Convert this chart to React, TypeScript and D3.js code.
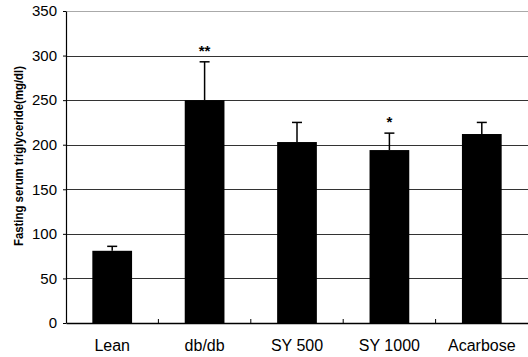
import { useEffect, useRef } from 'react';
import * as d3 from 'd3';

// groups and values
const groups = ['Lean', 'db/db', 'SY 500', 'SY 1000', 'Acarbose'];
const means = [81, 250, 203, 194, 212];
const errors = [5, 43, 22, 19, 13];
const marks = ['', '**', '', '*', ''];
const yTicks = [0, 50, 100, 150, 200, 250, 300, 350];

export default function App() {
  const svgRef = useRef<SVGSVGElement>(null);

  useEffect(() => {
    if (!svgRef.current) return;

    const width = 528;
    const height = 357;
    const margin = { top: 11, right: 0, bottom: 34, left: 66 };
    const innerWidth = width - margin.left - margin.right;
    const innerHeight = height - margin.top - margin.bottom;
    const font = 'Arial, "Liberation Sans", sans-serif';

    const svg = d3.select(svgRef.current);
    svg.selectAll('*').remove();
    svg.attr('width', width).attr('height', height);

    const g = svg
      .append('g')
      .attr('transform', `translate(${margin.left},${margin.top})`);

    // Scales
    const x = d3
      .scaleBand()
      .domain(groups)
      .range([0, innerWidth])
      .paddingInner(0.57)
      .paddingOuter(0.285);

    const y = d3.scaleLinear().domain([0, 350]).range([innerHeight, 0]);

    // Grid lines
    g.selectAll('line.grid')
      .data(yTicks.filter((t) => t > 0))
      .enter()
      .append('line')
      .attr('x1', 0)
      .attr('x2', innerWidth)
      .attr('y1', (d) => Math.round(y(d)) + 0.5)
      .attr('y2', (d) => Math.round(y(d)) + 0.5)
      .attr('stroke', (d) => (d === 350 ? '#aaa' : '#333'))
      .attr('stroke-width', 1);

    // Bars
    const data = groups.map((name, i) => ({
      name,
      mean: means[i],
      err: errors[i],
      mark: marks[i],
    }));

    g.selectAll('rect')
      .data(data)
      .enter()
      .append('rect')
      .attr('x', (d) => x(d.name) || 0)
      .attr('y', (d) => y(d.mean))
      .attr('width', x.bandwidth())
      .attr('height', (d) => innerHeight - y(d.mean))
      .attr('fill', '#000');

    // Error bars
    const cx = (d: { name: string }) => (x(d.name) || 0) + x.bandwidth() / 2;
    g.selectAll('line.err')
      .data(data)
      .enter()
      .append('line')
      .attr('x1', cx)
      .attr('x2', cx)
      .attr('y1', (d) => y(d.mean))
      .attr('y2', (d) => y(d.mean + d.err))
      .attr('stroke', '#000')
      .attr('stroke-width', 1.5);

    g.selectAll('line.cap')
      .data(data)
      .enter()
      .append('line')
      .attr('x1', (d) => cx(d) - 5)
      .attr('x2', (d) => cx(d) + 5)
      .attr('y1', (d) => y(d.mean + d.err))
      .attr('y2', (d) => y(d.mean + d.err))
      .attr('stroke', '#000')
      .attr('stroke-width', 1.5);

    // Significance marks
    g.selectAll('text.mark')
      .data(data.filter((d) => d.mark))
      .enter()
      .append('text')
      .attr('x', cx)
      .attr('y', (d) => y(d.mean + d.err) - 6)
      .attr('text-anchor', 'middle')
      .attr('font-family', font)
      .attr('font-size', '15px')
      .attr('font-weight', 'bold')
      .attr('fill', '#000')
      .text((d) => d.mark);

    // X axis
    const xAxis = g
      .append('g')
      .attr('transform', `translate(0,${innerHeight})`)
      .call(d3.axisBottom(x).tickSize(0).tickPadding(17));
    xAxis.select('.domain').attr('stroke', '#000').attr('stroke-width', 1.5);
    xAxis
      .selectAll('text')
      .attr('fill', '#000')
      .attr('font-family', font)
      .attr('font-size', '16px');

    // category separators on the baseline
    g.selectAll('line.sep')
      .data(groups.slice(1))
      .enter()
      .append('line')
      .attr('x1', (d) => (x(d) || 0) - (x.step() - x.bandwidth()) / 2)
      .attr('x2', (d) => (x(d) || 0) - (x.step() - x.bandwidth()) / 2)
      .attr('y1', innerHeight)
      .attr('y2', innerHeight - 4)
      .attr('stroke', '#000');

    // Y axis
    const yAxis = g
      .append('g')
      .call(d3.axisLeft(y).tickValues(yTicks).tickSize(3).tickPadding(6).tickSizeOuter(0));
    yAxis.select('.domain').attr('stroke', '#000').attr('stroke-width', 1.2);
    yAxis.selectAll('line').attr('stroke', '#000');
    yAxis
      .selectAll('text')
      .attr('fill', '#000')
      .attr('font-family', font)
      .attr('font-size', '15px');

    // Axis label
    svg
      .append('text')
      .attr('transform', `translate(23,156) rotate(-90)`)
      .attr('text-anchor', 'middle')
      .attr('font-family', '"Liberation Sans Narrow", Arial, sans-serif')
      .attr('font-size', '12px')
      .attr('font-weight', 'bold')
      .attr('fill', '#000')
      .attr('textLength', 180)
      .attr('lengthAdjust', 'spacingAndGlyphs')
      .text('Fasting serum triglyceride(mg/dl)');
  }, []);

  return (
    <svg
      ref={svgRef}
      style={{ position: 'absolute', left: 0, top: 0, background: '#fff' }}
    />
  );
}
